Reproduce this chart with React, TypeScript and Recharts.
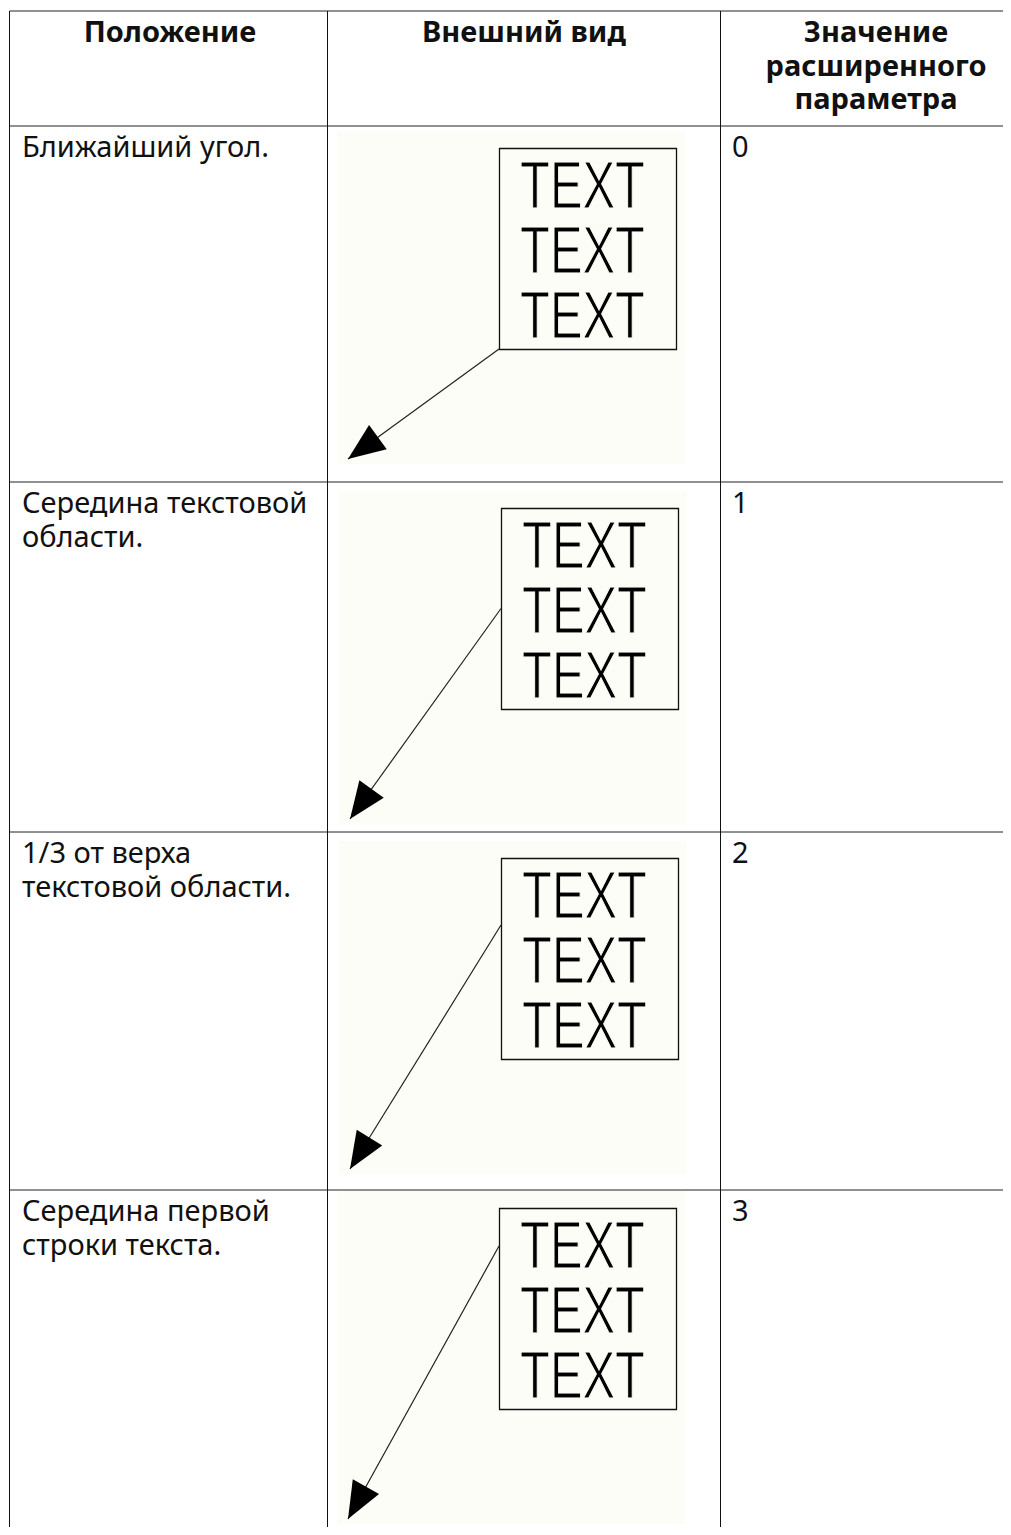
import { ComposedChart, Line, ReferenceArea, ReferenceLine, Scatter, XAxis, YAxis } from 'recharts'

// table content
const headers = [['Положение'], ['Внешний вид'], ['Значение', 'расширенного', 'параметра']]
const positionLines = [
  ['Ближайший угол.'],
  ['Середина текстовой', 'области.'],
  ['1/3 от верха', 'текстовой области.'],
  ['Середина первой', 'строки текста.'],
]
const paramValues = [0, 1, 2, 3]
const sampleLines = ['TEXT', 'TEXT', 'TEXT']

// layout (page pixels)
const W = 1003
const H = 1519
const colLines = [9.5, 327.5, 720.5]
const colCenters = [170, 524, 876]
const rowLines = [11, 126, 482, 832, 1190]
const boxOrigins = [
  [499, 148],
  [501, 508],
  [501, 858],
  [499, 1208],
]
const BOX_W = 177
const BOX_H = 201
const LINE_H = 33.6
const FONT = '"Noto Sans", "Open Sans", sans-serif'
const PIC_BG = '#fdfdf7'

const attachOffset = (value: number) => {
  if (value === 0) return BOX_H
  if (value === 1) return BOX_H / 2
  if (value === 2) return BOX_H / 3
  return 38 // middle of the first text line
}

type TextItem = { x: number; y: number; text: string; anchor: string; bold?: boolean }

const tableText: TextItem[] = []
headers.forEach((lines, c) =>
  lines.forEach((t, i) =>
    tableText.push({ x: colCenters[c], y: 42 + i * LINE_H, text: t, anchor: 'middle', bold: true })
  )
)
positionLines.forEach((lines, r) =>
  lines.forEach((t, i) =>
    tableText.push({ x: 22, y: rowLines[r + 1] + 31 + i * LINE_H, text: t, anchor: 'start' })
  )
)
paramValues.forEach((v, r) =>
  tableText.push({ x: 732, y: rowLines[r + 1] + 31, text: String(v), anchor: 'start' })
)

const sampleText = boxOrigins.flatMap(([bx, by]) =>
  sampleLines.map((t, i) => ({ x: bx + 21, y: by + 60 + i * 65, text: t }))
)

const leaders = paramValues.map((v, r) => {
  const [bx, by] = boxOrigins[r]
  const ax = bx
  const ay = by + attachOffset(v)
  const tx = bx - 151
  const ty = by + 311
  const len = Math.hypot(tx - ax, ty - ay)
  return [
    { x: ax, y: ay },
    { x: tx, y: ty, head: true, ux: (tx - ax) / len, uy: (ty - ay) / len },
  ]
})

const renderTableText = (props: any) => {
  const p = props.payload
  return (
    <text
      x={props.cx}
      y={props.cy}
      textAnchor={p.anchor}
      fontFamily={FONT}
      fontSize={29}
      fontWeight={p.bold ? 700 : 400}
      fill="#111"
    >
      {p.text}
    </text>
  )
}

// thin condensed glyphs: squeeze to width, then shave the strokes with the background colour
const renderSampleText = (props: any) => (
  <text
    x={props.cx}
    y={props.cy}
    fontFamily='"Liberation Sans", Arial, sans-serif'
    fontSize={67}
    textLength={125}
    lengthAdjust="spacingAndGlyphs"
    fill="#000"
    stroke={PIC_BG}
    strokeWidth={1.2}
  >
    {props.payload.text}
  </text>
)

const renderArrowHead = (props: any) => {
  const { cx, cy, payload, index } = props
  if (!payload?.head) return <g key={`d-${index}`} />
  const L = 37
  const hw = 15
  const bx = cx - payload.ux * L
  const by = cy - payload.uy * L
  const px = -payload.uy * hw
  const py = payload.ux * hw
  return (
    <polygon
      key={`d-${index}`}
      points={`${cx},${cy} ${bx + px},${by + py} ${bx - px},${by - py}`}
      fill="#000"
    />
  )
}

export default function App() {
  return (
    <div style={{ width: W, height: H }}>
      <ComposedChart width={W} height={H} margin={{ top: 0, right: 0, bottom: 0, left: 0 }}>
        <XAxis type="number" dataKey="x" domain={[8, 8 + W]} hide allowDataOverflow />
        <YAxis type="number" dataKey="y" domain={[8, 8 + H]} reversed hide allowDataOverflow />

        {boxOrigins.map(([bx, by], r) => (
          <ReferenceArea
            key={`bg-${r}`}
            x1={bx - 162}
            x2={bx + 186}
            y1={by - 17}
            y2={by + 316}
            fill={PIC_BG}
            fillOpacity={1}
            stroke="none"
            ifOverflow="visible"
          />
        ))}
        {boxOrigins.map(([bx, by], r) => (
          <ReferenceArea
            key={`box-${r}`}
            x1={bx + 0.5}
            x2={bx + BOX_W + 0.5}
            y1={by + 0.5}
            y2={by + BOX_H + 0.5}
            fill="none"
            fillOpacity={0}
            stroke="#111"
            strokeWidth={1.3}
            ifOverflow="visible"
          />
        ))}

        {rowLines.map((y, i) => (
          <ReferenceLine
            key={`h-${i}`}
            segment={[
              { x: colLines[0], y },
              { x: 8 + W, y },
            ]}
            stroke="#222"
            strokeWidth={1}
            ifOverflow="visible"
          />
        ))}
        {colLines.map((x, i) => (
          <ReferenceLine
            key={`v-${i}`}
            segment={[
              { x, y: rowLines[0] },
              { x, y: 8 + H },
            ]}
            stroke="#111"
            strokeWidth={1}
            ifOverflow="visible"
          />
        ))}

        {leaders.map((pts, r) => (
          <Line
            key={`leader-${r}`}
            data={pts}
            dataKey="y"
            type="linear"
            stroke="#222"
            strokeWidth={1.2}
            dot={renderArrowHead}
            activeDot={false}
            legendType="none"
            isAnimationActive={false}
          />
        ))}

        <Scatter data={sampleText} shape={renderSampleText} isAnimationActive={false} />
        <Scatter data={tableText} shape={renderTableText} isAnimationActive={false} />
      </ComposedChart>
    </div>
  )
}
